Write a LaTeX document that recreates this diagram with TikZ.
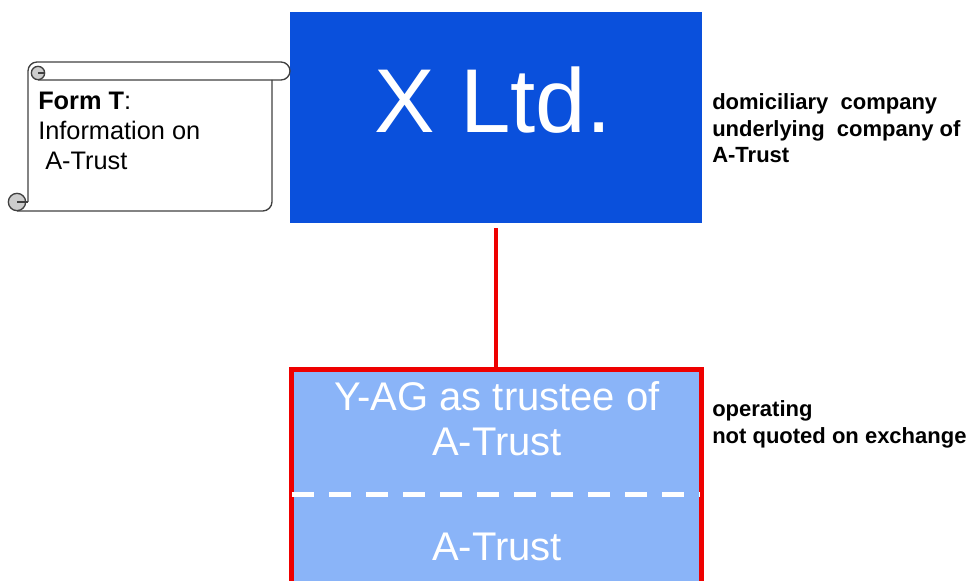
\documentclass[tikz,border=0pt]{standalone}
\usepackage{fontspec}
\setmainfont{Liberation Sans}
\definecolor{xblue}{RGB}{10,80,220}
\definecolor{trustblue}{RGB}{138,180,248}
\definecolor{linkred}{RGB}{238,0,0}
\definecolor{curlgray}{RGB}{205,205,205}
\tikzset{
  company/.style = {fill=xblue, minimum width=309pt, minimum height=158.25pt, inner sep=0pt},
  trustbox/.style = {fill=trustblue, draw=linkred, line width=3.75pt, minimum width=307.5pt, minimum height=172.875pt, inner sep=0pt},
  bigname/.style = {text=white, font=\fontsize{68}{80}\selectfont, inner sep=0pt},
  boxname/.style = {text=white, font=\fontsize{30}{35}\selectfont, inner sep=0pt},
  remark/.style = {align=left, font=\bfseries\fontsize{16.5}{20}\selectfont, inner sep=0pt},
  scrolltext/.style = {align=left, font=\fontsize{19}{22.5}\selectfont, inner sep=0pt},
  link/.style = {draw=linkred, line width=3pt},
  splitline/.style = {draw=white, line width=3.75pt, dash pattern=on 16.5pt off 11.25pt},
  scrollline/.style = {draw=black!75, line width=1pt}
}
\begin{document}
\begin{tikzpicture}[x=0.75pt, y=-0.75pt]
\useasboundingbox (0,0) rectangle (978,581);

\node[company] (xltd) at (496,117.5) {};
\node[bigname, anchor=base] (xname) at (493,133) {X Ltd.};

\node[trustbox] (trust) at (496,484.75) {};
\node[boxname, anchor=base] (trustee) at (497,410) {Y-AG as trustee of};
\node[boxname, anchor=base] (trustee2) at (497,455) {A-Trust};
\node[boxname, anchor=base] (atrust) at (497,560) {A-Trust};
\coordinate (dashL) at (292,494);
\coordinate (dashR) at (700,494);
\draw[splitline] (dashL) -- (dashR);

\draw[link, shorten <=3.75pt] (xltd.south) -- (trust.north);

\node[remark, anchor=base west] (xnote) at (712,163) {domiciliary\ \ company\\underlying\ \ company of\\A-Trust};
\node[remark, anchor=base west] (trustnote) at (712,443) {operating\\not quoted on exchange};

% scroll
\draw[scrollline, rounded corners=6.75pt] (28,202) -- (28,62) -- (290,62) -- (290,80) -- (38,80);
\draw[scrollline, rounded corners=7pt] (272,80) -- (272,211) -- (17,211);
\draw[scrollline, fill=curlgray] (38,73) circle (5pt);
\draw[scrollline] (38,73) -- (45,73);
\draw[scrollline, fill=curlgray] (17,202) circle (6.5pt);
\draw[scrollline] (17,202) -- (28,202);
\node[scrolltext, anchor=base west] (formt) at (38,170) {\textbf{Form T}:\\Information on\\ \ A-Trust};
\end{tikzpicture}
\end{document}
